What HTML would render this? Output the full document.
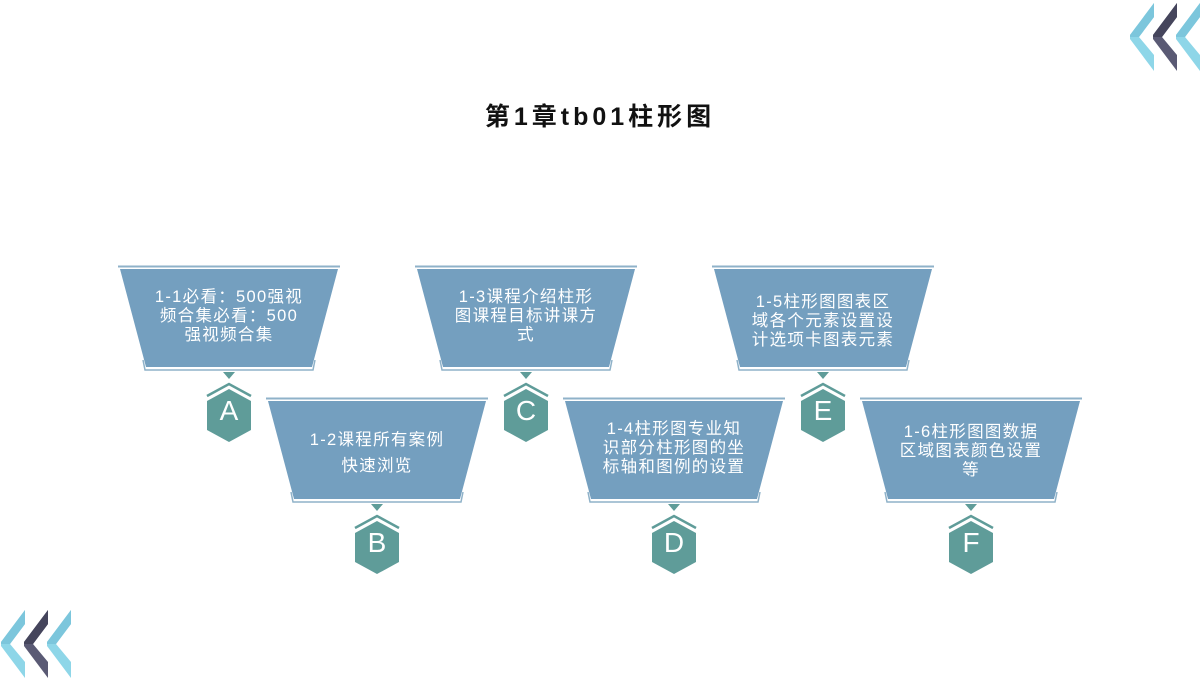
<!DOCTYPE html>
<html><head><meta charset="utf-8"><style>
body{margin:0;width:1200px;height:680px;background:#fff;overflow:hidden;font-family:"Liberation Sans","Noto Sans CJK SC",sans-serif}
svg{position:absolute;left:0;top:0}
.t{position:absolute;color:#fff;text-align:center;font-size:16.5px;line-height:19px;letter-spacing:1.3px;white-space:nowrap}
.h{position:absolute;color:#fff;font-size:28px;width:44px;text-align:center}
</style></head><body>
<svg width="1200" height="680">
<defs>
<g id="blk">
<line x1="-111" y1="266.5" x2="111" y2="266.5" stroke="#8fb2c9" stroke-width="2"/>
<polygon points="-109,269 109,269 83,367 -83,367" fill="#749fbf"/>
<polyline points="-86,360 -84,370 84,370 86,360" fill="none" stroke="#8fb2c9" stroke-width="1.5"/>
<polygon points="-6,372 6,372 0,379" fill="#5f9c99"/>
<polygon points="0,389 22,401 22,430 0,442 -22,430 -22,401" fill="#5f9c99"/>
<polyline points="-22,396 0,384 22,396" fill="none" stroke="#5f9c99" stroke-width="2.5"/>
</g>
<g id="chev">
<polygon points="24,0 24,14 9,34 24,52 24,68 0,36 0,32" fill="#8ed6e8"/>
<polygon points="24,0 24,14 9,34 0,34 0,32" fill="#7cc6dc"/>
</g>
<g id="chevd">
<polygon points="24,0 24,14 9,34 24,52 24,68 0,36 0,32" fill="#5a5a74"/>
<polygon points="24,0 24,14 9,34 0,34 0,32" fill="#45455c"/>
</g>
</defs>
<use href="#blk" x="229" y="0"/>
<use href="#blk" x="526" y="0"/>
<use href="#blk" x="823" y="0"/>
<use href="#blk" x="377" y="132"/>
<use href="#blk" x="674" y="132"/>
<use href="#blk" x="971" y="132"/>
<use href="#chev" x="1130" y="3"/>
<use href="#chevd" x="1153" y="3"/>
<use href="#chev" x="1176" y="3"/>
<use href="#chev" x="1" y="610"/>
<use href="#chevd" x="24" y="610"/>
<use href="#chev" x="47" y="610"/>
</svg>
<div style="position:absolute;left:0;width:1200px;top:97px;text-align:center;font-size:25px;font-weight:bold;letter-spacing:4px;color:#111">第1章tb01柱形图</div>
<div class="t" style="left:129px;width:200px;top:288px">1-1必看：500强视<br>频合集必看：500<br>强视频合集</div>
<div class="t" style="left:426px;width:200px;top:288px">1-3课程介绍柱形<br>图课程目标讲课方<br>式</div>
<div class="t" style="left:723px;width:200px;top:293px">1-5柱形图图表区<br>域各个元素设置设<br>计选项卡图表元素</div>
<div class="t" style="left:277px;width:200px;top:427px;line-height:26px">1-2课程所有案例<br>快速浏览</div>
<div class="t" style="left:574px;width:200px;top:420px">1-4柱形图专业知<br>识部分柱形图的坐<br>标轴和图例的设置</div>
<div class="t" style="left:871px;width:200px;top:423px">1-6柱形图图数据<br>区域图表颜色设置<br>等</div>
<div class="h" style="left:207px;top:395px">A</div>
<div class="h" style="left:504px;top:395px">C</div>
<div class="h" style="left:801px;top:395px">E</div>
<div class="h" style="left:355px;top:527px">B</div>
<div class="h" style="left:652px;top:527px">D</div>
<div class="h" style="left:949px;top:527px">F</div>
</body></html>
